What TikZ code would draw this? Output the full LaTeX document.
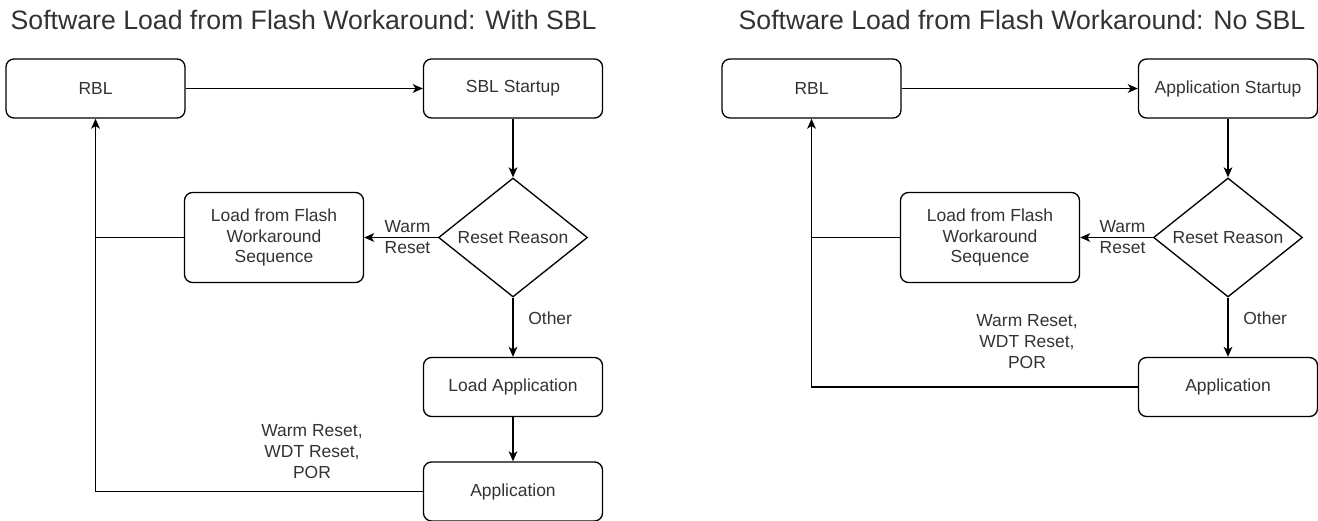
\documentclass[tikz,border=0pt]{standalone}
\usepackage{fontspec}
\setmainfont{Liberation Sans}
\usetikzlibrary{arrows.meta,shapes.geometric}

\begin{document}
\begin{tikzpicture}[->,>={Stealth[length=7.5pt,width=6.5pt,inset=2pt]},x=0.75pt,y=-0.75pt,
                    line width=1pt,font=\fontsize{13.1}{15.7}\selectfont]
  \tikzstyle{block}=[rectangle,rounded corners=6pt,draw=black,fill=white,text=black!80,
                     minimum width=134.25pt,minimum height=44.25pt,align=center]
  \tikzstyle{decision}=[diamond,draw=black,fill=white,text=black!80,shape aspect=1.25,
                        inner sep=0pt,minimum width=111.75pt,minimum height=89.25pt]
  \tikzstyle{note}=[text=black!80,align=center,inner sep=0pt]
  \tikzstyle{title}=[text=black!80,anchor=base west,inner sep=0pt,font=\fontsize{20}{24}\selectfont]

  \useasboundingbox (0,0) rectangle (1318,521);

  % with SBL
  \node[title] (ttlA) at (10,30) {Software Load from Flash Workaround: With SBL};
  \node[block] (rblA)   at (95.5,88.5) {RBL};
  \node[block] (sblA)   at (513,88.5)  {SBL Startup};
  \node[decision] (rrA) at (513,237.5) {Reset Reason};
  \node[block,minimum height=67.5pt] (flashA) at (274,237.5) {Load from Flash\\Workaround\\Sequence};
  \node[block] (loadA)  at (513,387)   {Load Application};
  \node[block] (appA)   at (513,491.5) {Application};
  \node[note] (resA)    at (312,452)   {Warm Reset,\\WDT Reset,\\POR};

  \path (rblA) edge (sblA)
        (sblA) edge (rrA)
        (rrA)  edge node[note,pos=0,anchor=east,xshift=-5pt] {Warm\\Reset} (flashA)
        (rrA)  edge node[note,pos=0.35,anchor=west,xshift=11pt] {Other} (loadA)
        (loadA) edge (appA);
  \draw (appA) -| (rblA);
  \draw[-] (flashA) -- (flashA -| rblA);

  % no SBL
  \node[title] (ttlB) at (738,30) {Software Load from Flash Workaround: No SBL};
  \node[block] (rblB)      at (811.5,88.5) {RBL};
  \node[block] (appstartB) at (1228,88.5)  {Application Startup};
  \node[decision] (rrB)    at (1228,237.5) {Reset Reason};
  \node[block,minimum height=67.5pt] (flashB) at (990,237.5) {Load from Flash\\Workaround\\Sequence};
  \node[block] (appB)      at (1228,387)   {Application};
  \node[note] (resB)       at (1027,342)   {Warm Reset,\\WDT Reset,\\POR};

  \path (rblB) edge (appstartB)
        (appstartB) edge (rrB)
        (rrB)  edge node[note,pos=0,anchor=east,xshift=-5pt] {Warm\\Reset} (flashB)
        (rrB)  edge node[note,pos=0.35,anchor=west,xshift=11pt] {Other} (appB);
  \draw (appB) -| (rblB);
  \draw[-] (flashB) -- (flashB -| rblB);
\end{tikzpicture}
\end{document}
